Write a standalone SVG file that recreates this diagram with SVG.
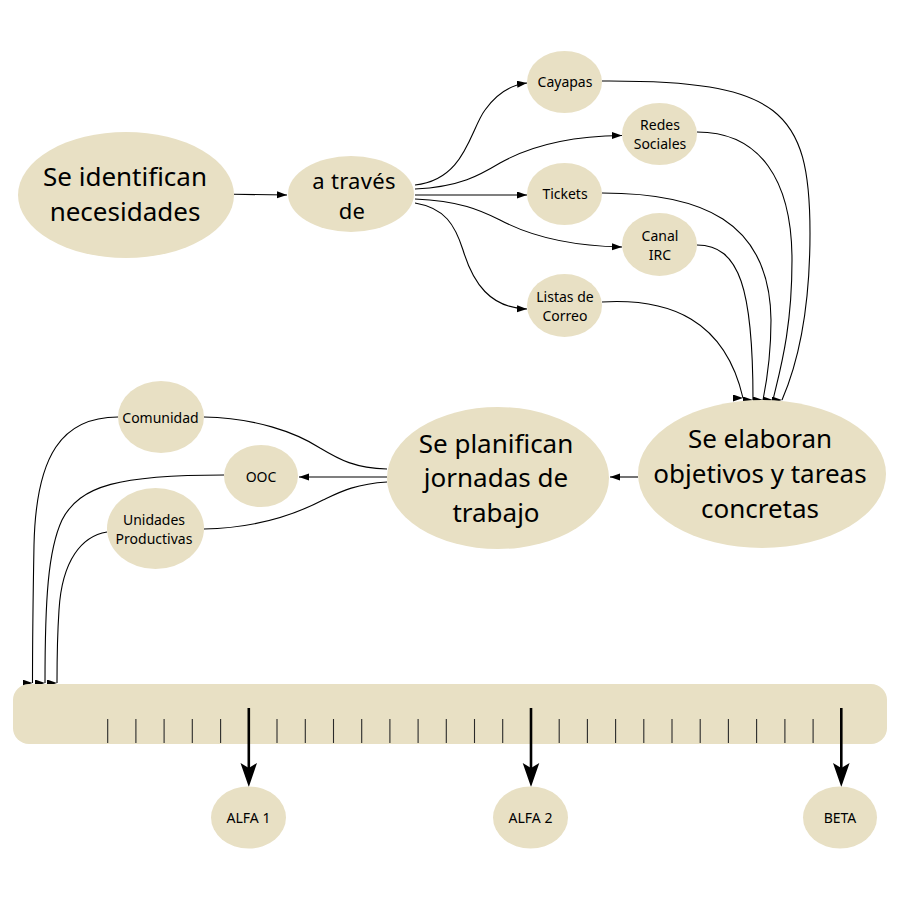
<svg xmlns="http://www.w3.org/2000/svg" width="900" height="900" viewBox="0 0 900 900">
<style>
.n{fill:#e8e0c4;stroke:none}
.c{fill:none;stroke:#000;stroke-width:1.1}
.big{stroke:#000;stroke-width:2.6;fill:none}
.tk{stroke:#2a2a2a;stroke-width:1.1}
text{font-family:"Noto Sans","Open Sans","DejaVu Sans",sans-serif;fill:#000;text-anchor:middle}
.L{font-size:26px}
.M{font-size:22px;letter-spacing:0.3px}
.S{font-size:14px}
</style>
<defs>
<marker id="a" markerUnits="userSpaceOnUse" markerWidth="12" markerHeight="9" refX="10" refY="3.5" orient="auto"><path d="M0,0 L10,3.5 L0,7 z" fill="#000"/></marker>
<marker id="r" markerUnits="userSpaceOnUse" markerWidth="12" markerHeight="9" refX="10" refY="3.5" orient="0"><path d="M0,0 L10,3.5 L0,7 z" fill="#000"/></marker>
</defs>
<rect width="900" height="900" fill="#fff"/>
<g id="connectors">
<path class="c" d="M234,194.3 L287,195" marker-end="url(#a)"/>
<path class="c" d="M415,185 C465,180 470,130 485,110 C497,93 510,85 527,83" marker-end="url(#a)"/>
<path class="c" d="M415,189 C460,187 480,175 500,163 C530,146 570,136 622,135.5" marker-end="url(#a)"/>
<path class="c" d="M415,195 L527,195" marker-end="url(#a)"/>
<path class="c" d="M415,199 C460,201 480,210 500,220 C530,236 570,246 622,247" marker-end="url(#a)"/>
<path class="c" d="M415,203 C445,208 455,225 463,250 C473,283 490,308 527,309" marker-end="url(#a)"/>
<path class="c" d="M602,81 C780,80 810,110 810,233 C810,320 795,370 782,400" marker-end="url(#r)"/>
<path class="c" d="M697,132 C760,132 792,180 792,260 C792,330 780,370 773,400" marker-end="url(#r)"/>
<path class="c" d="M602,193 C700,193 770,220 771,320 C771,360 766,385 763,400" marker-end="url(#r)"/>
<path class="c" d="M697,245 C740,245 753,290 753,400" marker-end="url(#r)"/>
<path class="c" d="M602,302 C670,298 725,320 743,398" marker-end="url(#r)"/>
<path class="c" d="M638,477 L610,477" marker-end="url(#a)"/>
<path class="c" d="M387,469 C355,468 340,460 320,448 C295,432 255,418 204,417"/>
<path class="c" d="M387,477 L299,477" marker-end="url(#a)"/>
<path class="c" d="M387,482 C355,484 340,492 323,500 C300,512 260,528 204,529"/>
<path class="c" d="M118,417 C62,417 36,455 34,545 C33,600 32.5,640 32.5,683" marker-end="url(#r)"/>
<path class="c" d="M224,475 C120,475 80,485 62,520 C48,550 45,600 45,683" marker-end="url(#r)"/>
<path class="c" d="M107,532 C82,536 62,560 59,610 C57,640 57,660 57,683" marker-end="url(#r)"/>
</g>
<g id="identifican"><ellipse class="n" cx="126" cy="195" rx="108" ry="63"/><text class="L" x="125" y="186">Se identifican</text><text class="L" x="125" y="221">necesidades</text></g>
<g id="atraves"><ellipse class="n" cx="351" cy="194" rx="63" ry="38"/><text class="M" x="354" y="189">a través</text><text class="M" x="352" y="219">de</text></g>
<g id="cayapas"><ellipse class="n" cx="564.5" cy="82" rx="37.5" ry="31"/><text class="S" x="565" y="87">Cayapas</text></g>
<g id="redes"><ellipse class="n" cx="659.5" cy="134" rx="37.5" ry="31"/><text class="S" x="660" y="130">Redes</text><text class="S" x="660" y="149">Sociales</text></g>
<g id="tickets"><ellipse class="n" cx="564.5" cy="194" rx="37.5" ry="31"/><text class="S" x="565" y="199">Tickets</text></g>
<g id="irc"><ellipse class="n" cx="659.5" cy="244.5" rx="37.5" ry="31.5"/><text class="S" x="660" y="241">Canal</text><text class="S" x="660" y="260">IRC</text></g>
<g id="listas"><ellipse class="n" cx="564.5" cy="305.5" rx="37.5" ry="31.5"/><text class="S" x="565" y="302">Listas de</text><text class="S" x="565" y="321">Correo</text></g>
<g id="elaboran"><ellipse class="n" cx="762" cy="474" rx="124" ry="74"/><text class="L" x="760" y="448">Se elaboran</text><text class="L" x="760" y="483">objetivos y tareas</text><text class="L" x="760" y="518">concretas</text></g>
<g id="planifican"><ellipse class="n" cx="498" cy="478" rx="111" ry="71"/><text class="L" x="496" y="453">Se planifican</text><text class="L" x="496" y="487">jornadas de</text><text class="L" x="496" y="522">trabajo</text></g>
<g id="comunidad"><ellipse class="n" cx="161" cy="417" rx="43" ry="36"/><text class="S" x="160.5" y="423">Comunidad</text></g>
<g id="ooc"><ellipse class="n" cx="261" cy="476" rx="37" ry="31"/><text class="S" x="261" y="482">OOC</text></g>
<g id="unidades"><ellipse class="n" cx="155.5" cy="528.5" rx="48.5" ry="40.5"/><text class="S" x="154" y="525">Unidades</text><text class="S" x="154" y="544">Productivas</text></g>
<g id="timeline">
<rect class="n" x="13" y="684" width="874" height="60" rx="16"/>
<g class="tk">
<line x1="107.7" y1="719" x2="107.7" y2="743"/><line x1="135.9" y1="719" x2="135.9" y2="743"/><line x1="164.1" y1="719" x2="164.1" y2="743"/><line x1="192.3" y1="719" x2="192.3" y2="743"/><line x1="220.6" y1="719" x2="220.6" y2="743"/>
<line x1="277" y1="719" x2="277" y2="743"/><line x1="305.3" y1="719" x2="305.3" y2="743"/><line x1="333.5" y1="719" x2="333.5" y2="743"/><line x1="361.7" y1="719" x2="361.7" y2="743"/><line x1="389.9" y1="719" x2="389.9" y2="743"/><line x1="418.1" y1="719" x2="418.1" y2="743"/><line x1="446.3" y1="719" x2="446.3" y2="743"/><line x1="474.5" y1="719" x2="474.5" y2="743"/><line x1="502.7" y1="719" x2="502.7" y2="743"/>
<line x1="559.2" y1="719" x2="559.2" y2="743"/><line x1="587.4" y1="719" x2="587.4" y2="743"/><line x1="615.6" y1="719" x2="615.6" y2="743"/><line x1="643.8" y1="719" x2="643.8" y2="743"/><line x1="672" y1="719" x2="672" y2="743"/><line x1="700.2" y1="719" x2="700.2" y2="743"/><line x1="728.4" y1="719" x2="728.4" y2="743"/><line x1="756.6" y1="719" x2="756.6" y2="743"/><line x1="784.9" y1="719" x2="784.9" y2="743"/><line x1="813.1" y1="719" x2="813.1" y2="743"/>
</g>
<line class="big" x1="248.8" y1="708" x2="248.8" y2="770"/><path d="M240.5,763 L248.8,768 L257,763 L248.8,787 z"/>
<line class="big" x1="531" y1="708" x2="531" y2="770"/><path d="M522.7,763 L531,768 L539.3,763 L531,787 z"/>
<line class="big" x1="841.3" y1="708" x2="841.3" y2="770"/><path d="M833,763 L841.3,768 L849.6,763 L841.3,787 z"/>
</g>
<g id="alfa1"><ellipse class="n" cx="248.5" cy="817.5" rx="37.5" ry="31"/><text class="S" x="248.5" y="823">ALFA 1</text></g>
<g id="alfa2"><ellipse class="n" cx="530.5" cy="817.5" rx="37.5" ry="31"/><text class="S" x="530.5" y="823">ALFA 2</text></g>
<g id="beta"><ellipse class="n" cx="840" cy="817.5" rx="37" ry="31"/><text class="S" x="840" y="823">BETA</text></g>
</svg>
